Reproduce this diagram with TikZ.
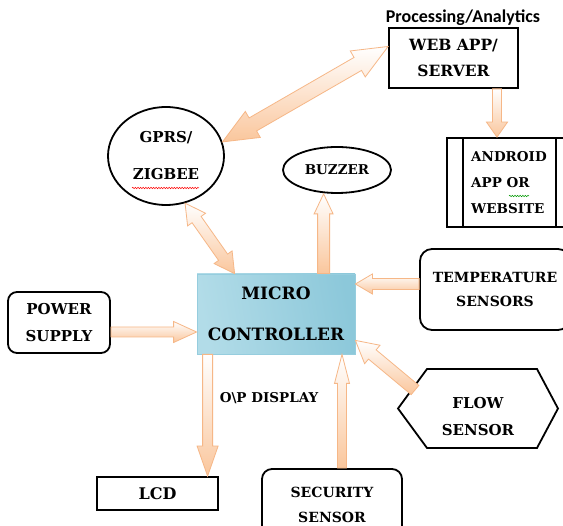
\documentclass[tikz,border=0pt]{standalone}
\usepackage{fontspec}
\usetikzlibrary{calc,shapes.geometric,decorations.pathmorphing}
\newfontfamily\labfont{DejaVu Serif}
\newfontfamily\procfont{Carlito}
\definecolor{peachline}{RGB}{246,183,135}
\definecolor{peachfill}{RGB}{250,198,156}
\definecolor{mcleft}{RGB}{178,220,232}
\definecolor{mcmid}{RGB}{228,243,247}
\definecolor{mcright}{RGB}{140,200,218}
\definecolor{mcline}{RGB}{150,205,222}
\newcommand\lf[2]{\labfont\bfseries\fontsize{#1}{#2}\selectfont}
\tikzset{
  box/.style={draw, line width=1.8pt, inner sep=0pt, align=center},
  rbox/.style={box, rounded corners=10pt},
  blockarr/.style={draw=peachline, line width=0.8pt, top color=white, bottom color=peachfill},
  squig/.style={decorate, decoration={snake, amplitude=0.7pt, segment length=2.6pt}, line width=0.5pt},
}
% single block arrow: tail, head, half shaft, half head, head length
\newcommand\sarrow[5]{%
  \coordinate (hb) at ($(#2)!#5!(#1)$);
  \draw[blockarr] ($(#1)!#3!90:(#2)$) -- ($(hb)!#3!90:(#2)$) -- ($(hb)!#4!90:(#2)$) -- (#2)
    -- ($(hb)!#4!-90:(#2)$) -- ($(hb)!#3!-90:(#2)$) -- ($(#1)!#3!-90:(#2)$) -- cycle;}
% double block arrow
\newcommand\darrow[5]{%
  \coordinate (hb) at ($(#2)!#5!(#1)$);
  \coordinate (ha) at ($(#1)!#5!(#2)$);
  \draw[blockarr] (#1) -- ($(ha)!#4!90:(#2)$) -- ($(ha)!#3!90:(#2)$) -- ($(hb)!#3!90:(#2)$)
    -- ($(hb)!#4!90:(#2)$) -- (#2) -- ($(hb)!#4!-90:(#2)$) -- ($(hb)!#3!-90:(#2)$)
    -- ($(ha)!#3!-90:(#2)$) -- ($(ha)!#4!-90:(#2)$) -- cycle;}
\begin{document}
\begin{tikzpicture}[x=1pt, y=-1pt]
\useasboundingbox (0,0) rectangle (563,526);
\fill[white] (0,0) rectangle (563,526);
\clip (0,0) rectangle (563,526);

% nodes
\node[font=\procfont\bfseries\fontsize{18}{20}\selectfont] (proc) at (463,18) {Processing/Analytics};
\node[box, font=\lf{15.5}{26}, minimum width=129pt, minimum height=60pt] (web) at (453.5,58) {WEB APP/\\SERVER};
\node[box, minimum width=125pt, minimum height=89pt] (android) at (509.5,182.5) {};
\draw[line width=1.8pt] ($(android.north west)+(17,0)$) -- ($(android.south west)+(17,0)$);
\draw[line width=1.8pt] ($(android.north west)+(110,0)$) -- ($(android.south west)+(110,0)$);
\node[font=\lf{13.5}{26}, align=left, anchor=west, inner sep=0pt] (androidtxt) at (471,183) {ANDROID\\APP OR\\WEBSITE};

\node[ellipse, draw, line width=1.8pt, minimum width=116pt, minimum height=98pt, inner sep=0pt,
      font=\lf{15}{37}, align=center] (gprs) at (166,156) {GPRS/\\ZIGBEE};
\node[ellipse, draw, line width=1.8pt, minimum width=108pt, minimum height=46pt, inner sep=0pt,
      font=\lf{13.5}{15}] (buzzer) at (337,170) {BUZZER};

\node[draw=mcline, line width=0.8pt, left color=mcleft, middle color=mcmid, right color=mcright,
      shading angle=100, minimum width=158pt,
      minimum height=80pt, inner sep=0pt, align=center, font=\lf{17}{41}] (micro) at (276,314) {MICRO\\CONTROLLER};

\node[rbox, rounded corners=12pt, font=\lf{14}{24}, minimum width=150pt, minimum height=81pt] (temp) at (495,289.5) {TEMPERATURE\\SENSORS};
\node[rbox, rounded corners=9pt, font=\lf{15}{27}, minimum width=102pt, minimum height=61pt] (power) at (59,322.5) {POWER\\SUPPLY};

\draw[line width=1.8pt] (398,408.5) -- (427,369) -- (537,369) -- (558,408.5) -- (537,448) -- (427,448) -- cycle;
\node[font=\lf{15}{27}, align=center] (flow) at (478,416.5) {FLOW\\SENSOR};

\node[box, font=\lf{16}{18}, minimum width=121pt, minimum height=33pt] (lcd) at (157.5,493.5) {LCD};
\node[rbox, font=\lf{14}{25}, minimum width=140pt, minimum height=71pt] (sec) at (332,504.5) {SECURITY\\SENSOR};
\node[font=\lf{13.5}{15}] (opdisp) at (269,398) {O\textbackslash P DISPLAY};

% spell-check squiggles
\draw[squig, red] (132,188) -- (199,188);
\draw[squig, green!60!black] (509,196) -- (529,196);

% connectors
\darrow{gprs.14}{web.170}{7.5pt}{15pt}{35pt}

\coordinate (wa) at ($(web.south)+(43.5,0)$);
\coordinate (wb) at (wa |- android.north);
\sarrow{wa}{wb}{4.5pt}{10.5pt}{15pt}

\coordinate (gm) at ($(micro.north west)+(38,0)$);
\darrow{gprs.-68}{gm}{5.5pt}{11pt}{20pt}

\coordinate (mb) at ($(micro.north west)+(127,0)$);
\coordinate (bz) at (mb |- buzzer.south);
\sarrow{mb}{bz}{6pt}{9.5pt}{20pt}

\coordinate (tm) at ($(temp.west)+(0,-5.5)$);
\coordinate (tmh) at (tm -| micro.east);
\sarrow{tm}{tmh}{5.5pt}{10pt}{17pt}

\coordinate (pm) at ($(power.east)+(0,9.5)$);
\coordinate (pmh) at (pm -| micro.west);
\sarrow{pm}{pmh}{5pt}{10.5pt}{23pt}

\coordinate (ft) at (415,390);
\coordinate (fth) at ($(micro.south east)+(0,-14)$);
\sarrow{ft}{fth}{6pt}{12pt}{22pt}

\coordinate (ml) at ($(micro.south west)+(11,0)$);
\coordinate (mlh) at (ml |- lcd.north);
\sarrow{ml}{mlh}{5pt}{10.5pt}{30pt}

\coordinate (sm) at ($(sec.north)+(10,0)$);
\coordinate (smh) at (sm |- micro.south);
\sarrow{sm}{smh}{4.5pt}{7.5pt}{29pt}
\end{tikzpicture}
\end{document}
